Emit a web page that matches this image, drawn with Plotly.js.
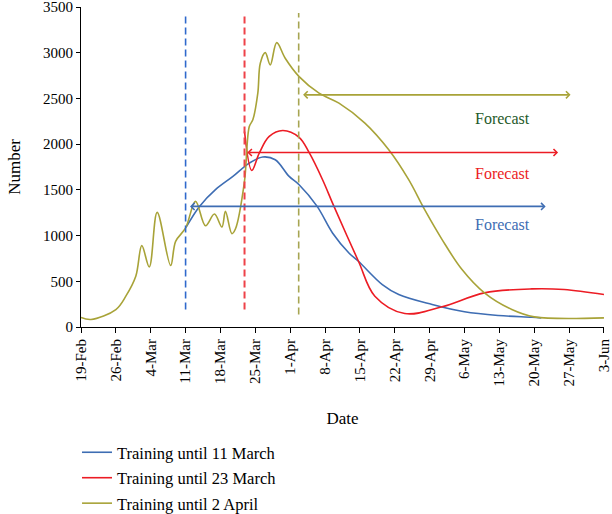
<!DOCTYPE html>
<html>
<head>
<meta charset="utf-8">
<script src="https://cdn.plot.ly/plotly-3.0.1.min.js"></script>
<style>html,body{margin:0;padding:0;background:#fff;}#chart{width:612px;height:514px;}</style>
</head>
<body>
<div id="chart"></div>
<script>
// ---- Data ----
const seriesNames = ["Training until 11 March", "Training until 23 March", "Training until 2 April"];

const aprilDates = ["2020-02-19","2020-02-21","2020-02-26","2020-02-28","2020-03-01","2020-03-02 05:00","2020-03-03 17:00","2020-03-05 07:00","2020-03-08","2020-03-09","2020-03-11","2020-03-13","2020-03-15","2020-03-16 19:00","2020-03-18 07:00","2020-03-19","2020-03-20 07:00","2020-03-21","2020-03-22 19:00","2020-03-23 19:00","2020-03-24 12:00","2020-03-25 12:00","2020-03-26","2020-03-27","2020-03-28","2020-03-29 07:00","2020-03-31","2020-04-02 19:00","2020-04-06 19:00","2020-04-10 19:00","2020-04-16","2020-04-20 19:00","2020-04-24 19:00","2020-04-28","2020-05-01 12:00","2020-05-05 12:00","2020-05-10","2020-05-15 12:00","2020-05-20","2020-06-03"];
const aprilValues = [104,82,191,337,555,890,657,1254,672,937,1083,1374,1108,1236,1094,1265,1021,1072,1580,2193,2266,2558,2885,3001,2867,3110,2940,2739,2558,2448,2230,1938,1611,1283,956,628,373,191,111,100];

const marchElevenDates = ["2020-03-11 02:00","2020-03-13 19:00","2020-03-17","2020-03-20 12:00","2020-03-23 19:00","2020-03-26 12:00","2020-03-29","2020-03-31 19:00","2020-04-02 19:00","2020-04-06 10:00","2020-04-09 12:00","2020-04-12 19:00","2020-04-14 17:00","2020-04-19 12:00","2020-04-22 19:00","2020-04-29 12:00","2020-05-06","2020-05-12 19:00","2020-05-19 12:00","2020-05-21 10:00"];
const marchElevenValues = [1090,1319,1502,1647,1793,1859,1829,1647,1556,1319,1029,810,719,464,355,246,166,126,107,100];

const marchTwentyThreeDates = ["2020-03-22 20:00","2020-03-24 07:00","2020-03-25 19:00","2020-03-27 19:00","2020-03-30 12:00","2020-04-02 19:00","2020-04-04 19:00","2020-04-07 12:00","2020-04-09 19:00","2020-04-14 17:00","2020-04-18","2020-04-24","2020-05-01 12:00","2020-05-10","2020-05-19 12:00","2020-05-26","2020-06-03"];
const marchTwentyThreeValues = [2138,1712,1902,2084,2149,2075,1909,1611,1319,719,337,147,221,373,417,410,355];

// training cut-off markers (dashed verticals)
const cutoffDates = ["2020-03-11", "2020-03-22 20:00", "2020-04-02 17:00"];
const cutoffBottom = [191, 191, 136];
const cutoffTop = 3434;

// forecast arrows
const arrowStart = ["2020-03-11 14:00", "2020-03-23 02:00", "2020-04-03 07:00"];
const arrowEnd = ["2020-05-22 07:00", "2020-05-24 19:00", "2020-05-27 07:00"];
const arrowLevel = [1319, 1909, 2539];

// forecast labels
const forecastLabel = "Forecast";
const forecastX = ["2020-05-13 14:00", "2020-05-13 14:00", "2020-05-13 14:00"];
const forecastY = [1119, 1680, 2285];

// ---- Styling ----
const lineColors = ["#3E6DB3", "#EC1C24", "#A8A338"];
const dashColors = ["#2F69CC", "#EE4249", "#A7A552"];
const forecastColors = ["#3E6DB3", "#EC1C24", "#1F5A2A"];
const FONT = "Liberation Serif, Times New Roman, serif";

const xs = [marchElevenDates, marchTwentyThreeDates, aprilDates];
const ys = [marchElevenValues, marchTwentyThreeValues, aprilValues];

const traces = xs.map((x, i) => ({
  type: "scatter", mode: "lines", x: x, y: ys[i], name: seriesNames[i],
  line: {color: lineColors[i], width: 1.6, shape: "spline", smoothing: 1},
  legendgroup: "g" + i, hoverinfo: "skip"
}));

const shapes = cutoffDates.map((d, i) => ({
  type: "line", xref: "x", yref: "y", x0: d, x1: d, y0: cutoffBottom[i], y1: cutoffTop,
  line: {color: dashColors[i], width: i === 1 ? 2 : 1.6, dash: "7px,4px"}
}));

const annotations = [];
arrowStart.forEach((s, i) => {
  annotations.push({
    x: arrowEnd[i], y: arrowLevel[i], ax: s, ay: arrowLevel[i], xref: "x", yref: "y", axref: "x", ayref: "y",
    text: "", showarrow: true, arrowside: "end+start", arrowhead: 4, arrowsize: 0.85, arrowwidth: 1.6,
    arrowcolor: lineColors[i], standoff: 0, startstandoff: 0
  });
  annotations.push({
    x: forecastX[i], y: forecastY[i], xref: "x", yref: "y", text: forecastLabel, showarrow: false,
    font: {family: FONT, size: 16, color: forecastColors[i]}
  });
});

const layout = {
  width: 612, height: 514,
  margin: {l: 81, r: 8, t: 7, b: 186.5, autoexpand: false},
  paper_bgcolor: "#fff", plot_bgcolor: "#fff",
  font: {family: FONT, color: "#000"},
  showlegend: true,
  legend: {x: -0.0076, xanchor: "left", y: -0.3376, yanchor: "top", font: {family: FONT, size: 16.5, color: "#000"},
           traceorder: "grouped", tracegroupgap: 1, bgcolor: "rgba(0,0,0,0)"},
  xaxis: {
    type: "date", range: ["2020-02-19", "2020-06-03 00:10"], tick0: "2020-02-19", dtick: 7 * 86400000,
    tickformat: "%-d-%b", tickangle: -90, ticks: "outside", ticklen: 5, tickcolor: "#000",
    showline: true, linecolor: "#000", linewidth: 1, showgrid: false, zeroline: false, automargin: true,
    ticklabeloverflow: "allow",
    tickfont: {family: FONT, size: 15, color: "#000"},
    title: {text: "Date", font: {family: FONT, size: 17, color: "#000"}, standoff: 26}
  },
  yaxis: {
    range: [0, 3500], dtick: 500, ticks: "outside", ticklen: 4, tickcolor: "#000",
    showline: true, linecolor: "#000", linewidth: 1, showgrid: false, zeroline: false, automargin: false,
    ticklabeloverflow: "allow",
    tickfont: {family: FONT, size: 15, color: "#000"},
    title: {text: "Number", font: {family: FONT, size: 17, color: "#000"}, standoff: 18}
  },
  shapes: shapes,
  annotations: annotations
};

Plotly.newPlot("chart", traces, layout, {displayModeBar: false, staticPlot: true});
</script>
</body>
</html>
